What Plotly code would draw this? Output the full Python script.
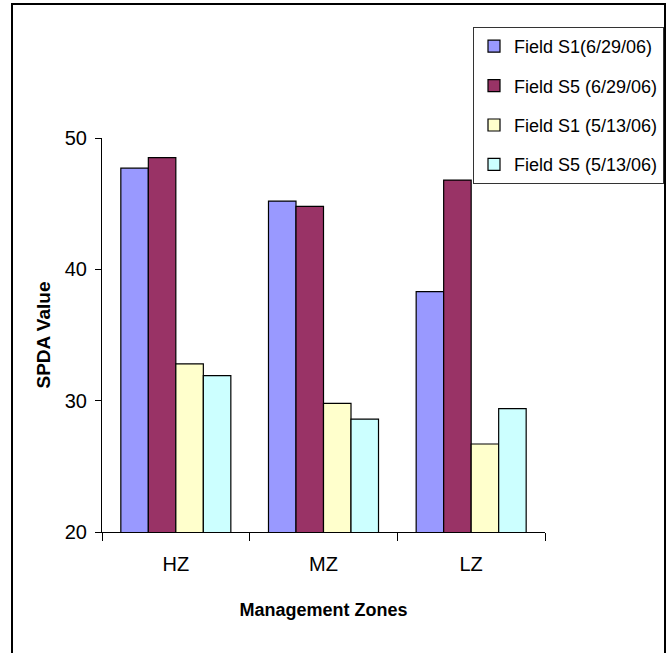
import plotly.graph_objects as go

# SPDA values by management zone for two fields on two survey dates
zones = ["HZ", "MZ", "LZ"]
s1_jun = [47.7, 45.2, 38.3]
s5_jun = [48.5, 44.8, 46.8]
s1_may = [32.8, 29.8, 26.7]
s5_may = [31.9, 28.6, 29.4]

series_names = [
    "Field S1(6/29/06)",
    "Field S5 (6/29/06)",
    "Field S1 (5/13/06)",
    "Field S5 (5/13/06)",
]
series_values = [s1_jun, s5_jun, s1_may, s5_may]
series_colors = ["#9999FF", "#993366", "#FFFFCC", "#CCFFFF"]

W, H = 670, 653
ML, MR, MT, MB = 102, 125, 138, 121
PW = W - ML - MR
PH = H - MT - MB


def px_x(px):
    return (px - ML) / PW


def px_y(py):
    return (H - MB - py) / PH


FONT = "Liberation Sans, Arial, sans-serif"

fig = go.Figure()
for i, (name, vals, col) in enumerate(zip(series_names, series_values, series_colors)):
    fig.add_trace(go.Bar(
        x=zones,
        y=vals,
        name=name,
        legendgroup=f"g{i}",
        marker=dict(color=col, line=dict(color="black", width=1.2)),
    ))

# outer frame around the chart (bottom edge runs off the page)
fig.add_shape(
    type="rect", xref="paper", yref="paper",
    x0=px_x(12), x1=px_x(665), y0=px_y(665), y1=px_y(4),
    line=dict(color="black", width=2), fillcolor="rgba(0,0,0,0)",
    layer="above",
)

fig.update_layout(
    width=W, height=H,
    margin=dict(l=ML, r=MR, t=MT, b=MB, pad=0, autoexpand=False),
    paper_bgcolor="white", plot_bgcolor="white",
    barmode="group", bargap=0.255, bargroupgap=0,
    font=dict(family=FONT, color="black"),
    showlegend=True,
    legend=dict(
        x=px_x(664), xanchor="right",
        y=px_y(27), yanchor="top",
        bgcolor="white", bordercolor="#333333", borderwidth=1,
        font=dict(family=FONT, size=18, color="black"),
        traceorder="grouped", tracegroupgap=13,
        itemwidth=30,
    ),
    xaxis=dict(
        showline=True, linecolor="black", linewidth=1,
        ticks="outside", tickson="boundaries", ticklen=8, tickcolor="black",
        tickfont=dict(family=FONT, size=20),
        ticklabelstandoff=14,
        showgrid=False, zeroline=False, automargin=False,
        title=dict(text="<b>Management Zones</b>", font=dict(family=FONT, size=18), standoff=29),
    ),
    yaxis=dict(
        range=[20, 50], tickvals=[20, 30, 40, 50],
        showline=True, linecolor="black", linewidth=1,
        ticks="outside", ticklen=6, tickcolor="black",
        tickfont=dict(family=FONT, size=20),
        ticklabelstandoff=4,
        showgrid=False, zeroline=False, automargin=False,
        title=dict(text="<b>SPDA Value</b>", font=dict(family=FONT, size=19), standoff=9),
    ),
)

fig.write_html("out.html")
